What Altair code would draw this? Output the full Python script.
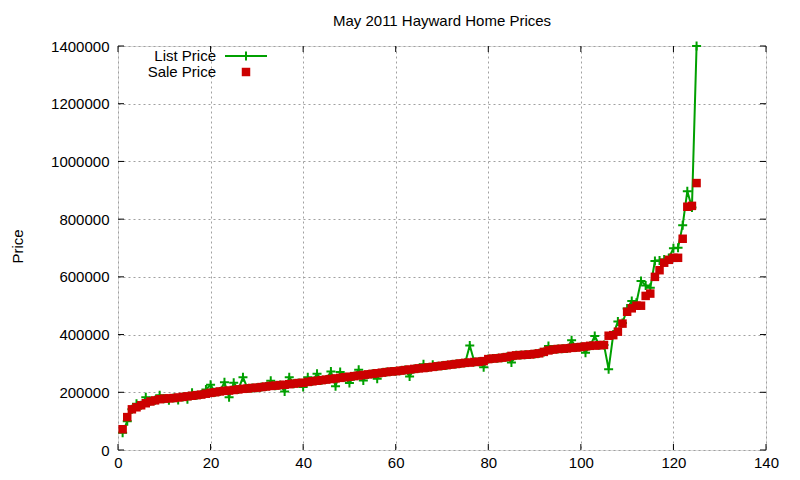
import altair as alt
import pandas as pd

# ---- data ----
house_no = list(range(1, 126))
sale_price = [
    72000, 114000, 141000, 148000, 155000, 162000, 168000, 172000, 176000, 178000,
    179000, 180000, 182000, 184000, 186000, 188000, 190000, 192000, 195000, 198000,
    200000, 203000, 205000, 206000, 208000, 210000, 212000, 213000, 215000, 216000,
    218000, 220000, 222000, 223000, 225000, 226000, 228000, 230000, 232000, 233000,
    236000, 238000, 240000, 242000, 244000, 246000, 248000, 250000, 252000, 254000,
    256000, 258000, 260000, 262000, 264000, 266000, 268000, 270000, 272000, 273000,
    275000, 277000, 279000, 281000, 283000, 284000, 286000, 288000, 290000, 292000,
    294000, 296000, 298000, 300000, 302000, 303000, 305000, 306000, 308000, 315000,
    317000, 318000, 320000, 322000, 326000, 328000, 329000, 330000, 331000, 333000,
    335000, 340000, 345000, 348000, 350000, 351000, 352000, 354000, 355000, 357000,
    359000, 361000, 362000, 363000, 364000, 396000, 398000, 410000, 438000, 479000,
    491000, 500000, 500000, 534000, 542000, 600000, 623000, 649000, 659000, 666000,
    666000, 732000, 843000, 846000, 925000,
]
list_price = [
    60000, 100000, 141000, 160000, 155000, 183000, 170000, 172000, 190000, 178000,
    172000, 180000, 173000, 184000, 176000, 198000, 190000, 192000, 210000, 226000,
    200000, 203000, 235000, 183000, 233000, 210000, 252000, 213000, 215000, 216000,
    218000, 220000, 240000, 223000, 225000, 203000, 252000, 230000, 232000, 218000,
    252000, 238000, 264000, 242000, 244000, 272000, 221000, 270000, 252000, 232000,
    256000, 278000, 241000, 262000, 264000, 247000, 268000, 270000, 272000, 273000,
    275000, 277000, 255000, 281000, 283000, 297000, 286000, 295000, 290000, 292000,
    294000, 296000, 298000, 300000, 302000, 362000, 305000, 306000, 287000, 315000,
    317000, 318000, 320000, 322000, 303000, 328000, 329000, 330000, 331000, 333000,
    335000, 340000, 360000, 348000, 350000, 351000, 352000, 380000, 355000, 357000,
    337000, 361000, 395000, 363000, 364000, 280000, 400000, 445000, 440000, 490000,
    516000, 510000, 586000, 570000, 562000, 655000, 657000, 660000, 665000, 699000,
    701000, 779000, 897000, 840000, 1400000,
]
x_ticks = [0, 20, 40, 60, 80, 100, 120, 140]
y_ticks = [0, 200000, 400000, 600000, 800000, 1000000, 1200000, 1400000]
legend_labels = ["List Price", "Sale Price"]

df = pd.DataFrame({"n": house_no, "list": list_price, "sale": sale_price})
xt = pd.DataFrame({"v": x_ticks})
yt = pd.DataFrame({"v": y_ticks})

FONT = "Liberation Sans"
GREEN = "#00a000"
RED = "#cc0000"
W, H = 648, 404
PLUS = "M-1,0L1,0M0,-1L0,1"

xs = alt.Scale(domain=[0, 140], nice=False, zero=False)
ys = alt.Scale(domain=[0, 1400000], nice=False)

xa = alt.Axis(values=x_ticks, title=None, grid=True, gridDash=[2, 3], gridColor="#a0a0a0",
              gridOpacity=1, ticks=False, domain=False, labelFont=FONT, labelFontSize=15,
              labelColor="black", labelPadding=5, labelFlush=False)
ya = alt.Axis(values=y_ticks, format="d", title="Price", grid=True, gridDash=[2, 3],
              gridColor="#a0a0a0", gridOpacity=1, ticks=False, domain=False, labelFont=FONT,
              labelFontSize=15, labelColor="black", labelPadding=9, labelFlush=False,
              titleFont=FONT, titleFontSize=15, titleFontWeight="normal", titleColor="black",
              titleAngle=270, titleX=-101, titleY=200, titleAlign="center", titleBaseline="middle")

base = alt.Chart(df)
line = base.mark_line(color=GREEN, strokeWidth=2, clip=False).encode(
    x=alt.X("n:Q", scale=xs, axis=xa), y=alt.Y("list:Q", scale=ys, axis=ya))
plus = base.mark_point(shape=PLUS, size=81, strokeWidth=2, color=GREEN, filled=False, opacity=1).encode(
    x=alt.X("n:Q", scale=xs, axis=xa), y=alt.Y("list:Q", scale=ys, axis=ya))
sq = base.mark_square(size=72, color=RED, opacity=1, filled=True).encode(
    x=alt.X("n:Q", scale=xs, axis=xa), y=alt.Y("sale:Q", scale=ys, axis=ya))

# inward mirrored ticks (gnuplot style)
tb = alt.Chart(xt).mark_rule(color="black").encode(
    x=alt.X("v:Q", scale=xs, axis=xa), y=alt.value(H), y2=alt.value(H - 6))
tt = alt.Chart(xt).mark_rule(color="black").encode(
    x=alt.X("v:Q", scale=xs, axis=xa), y=alt.value(0), y2=alt.value(6))
tl = alt.Chart(yt).mark_rule(color="black").encode(
    y=alt.Y("v:Q", scale=ys, axis=ya), x=alt.value(0), x2=alt.value(6))
tr = alt.Chart(yt).mark_rule(color="black").encode(
    y=alt.Y("v:Q", scale=ys, axis=ya), x=alt.value(W - 6), x2=alt.value(W))

# legend (text left of sample, as gnuplot draws it)
one = pd.DataFrame({"label": [legend_labels[0]]})
two = pd.DataFrame({"label": [legend_labels[1]]})
lt1 = alt.Chart(one).mark_text(align="right", baseline="middle", font=FONT, fontSize=15, color="black").encode(
    x=alt.value(98), y=alt.value(10), text="label:N")
lt2 = alt.Chart(two).mark_text(align="right", baseline="middle", font=FONT, fontSize=15, color="black").encode(
    x=alt.value(98), y=alt.value(26), text="label:N")
ll = alt.Chart(one).mark_rule(color=GREEN, strokeWidth=2).encode(
    x=alt.value(107), x2=alt.value(149), y=alt.value(10))
lp = alt.Chart(one).mark_point(shape=PLUS, size=81, strokeWidth=2, color=GREEN, filled=False, opacity=1).encode(
    x=alt.value(128), y=alt.value(10))
ls = alt.Chart(two).mark_square(size=72, color=RED, opacity=1, filled=True).encode(
    x=alt.value(128), y=alt.value(26))

chart = alt.layer(line, plus, sq, tb, tt, tl, tr, lt1, lt2, ll, lp, ls).properties(
    width=W, height=H,
    title=alt.TitleParams("May 2011 Hayward Home Prices", font=FONT, fontSize=15,
                          fontWeight="normal", color="black", anchor="middle", offset=9),
    padding={"left": 110, "top": 38, "right": 26, "bottom": 25},
    autosize=alt.AutoSizeParams(type="none"),
).configure_view(stroke="black", strokeWidth=1).configure(background="white")

chart.save("out.html", embed_options={"renderer": "svg", "actions": False})
